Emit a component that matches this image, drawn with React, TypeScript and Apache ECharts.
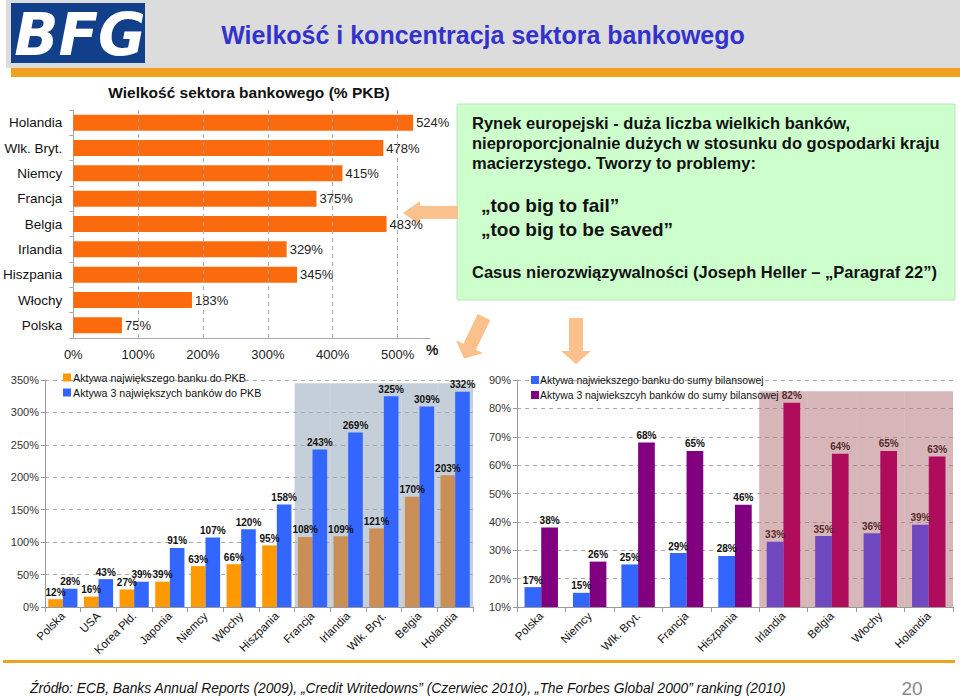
import React, { useEffect, useRef } from 'react';
import * as echarts from 'echarts';

// ---- Data ----
const sizeCountries = ['Holandia', 'Wlk. Bryt.', 'Niemcy', 'Francja', 'Belgia', 'Irlandia', 'Hiszpania', 'Włochy', 'Polska'];
const sizeValues = [524, 478, 415, 375, 483, 329, 345, 183, 75];
const sizeGridTicks = [100, 200, 300, 400, 500];

const gdpCountries = ['Polska', 'USA', 'Korea Płd.', 'Japonia', 'Niemcy', 'Włochy', 'Hiszpania', 'Francja', 'Irlandia', 'Wlk. Bryt.', 'Belgia', 'Holandia'];
const gdpLargest = [12, 16, 27, 39, 63, 66, 95, 108, 109, 121, 170, 203];
const gdpTop3 = [28, 43, 39, 91, 107, 120, 158, 243, 269, 325, 309, 332];
const gdpShaded = ['Francja', 'Irlandia', 'Wlk. Bryt.', 'Belgia', 'Holandia'];
const gdpShadeTop = 345;

const balCountries = ['Polska', 'Niemcy', 'Wlk. Bryt.', 'Francja', 'Hiszpania', 'Irlandia', 'Belgia', 'Włochy', 'Holandia'];
const balLargest = [17, 15, 25, 29, 28, 33, 35, 36, 39];
const balTop3 = [38, 26, 68, 65, 46, 82, 64, 65, 63];
const balShaded = ['Irlandia', 'Belgia', 'Włochy', 'Holandia'];
const balShadeTop = 86;

const nGdpLargest = 'Aktywa największego banku do PKB';
const nGdpTop3 = 'Aktywa 3 największych banków do PKB';
const nBalLargest = 'Aktywa najwiekszego banku do sumy bilansowej';
const nBalTop3 = 'Aktywa 3 najwiekszcyh banków do sumy bilansowej';

const FONT = '"Liberation Sans", Arial, sans-serif';

const downArrow = [[-7, 0], [7, 0], [7, 33], [15, 33], [0, 46], [-15, 33], [-7, 33]];

export default function App() {
  const ref = useRef<HTMLDivElement>(null);
  useEffect(() => {
    if (!ref.current) return;
    const chart = echarts.init(ref.current, undefined, { renderer: 'svg' });

    const barLabel = (color: string) => ({
      show: true,
      position: 'top',
      distance: 2,
      formatter: '{c}%',
      fontSize: 10,
      fontWeight: 'bold',
      color,
      fontFamily: FONT,
    });

    const option: any = {
      animation: false,
      textStyle: { fontFamily: FONT },
      grid: [
        { left: 69, top: 110, width: 361, height: 228 },
        { left: 45, top: 380, width: 428, height: 227 },
        { left: 517, top: 380, width: 436, height: 227 },
      ],
      legend: [
        {
          left: 58, top: 367, orient: 'vertical', itemWidth: 8, itemHeight: 8, itemGap: 4, icon: 'rect',
          data: [nGdpLargest, nGdpTop3],
          textStyle: { fontSize: 10.7, color: '#111', fontFamily: FONT, padding: [0, 0, 0, -3] },
        },
        {
          left: 526, top: 370, orient: 'vertical', itemWidth: 8, itemHeight: 8, itemGap: 5, icon: 'rect',
          data: [nBalLargest, nBalTop3],
          textStyle: { fontSize: 10.4, color: '#111', fontFamily: FONT, padding: [0, 0, 0, -4] },
        },
      ],
      xAxis: [
        {
          gridIndex: 0, type: 'value', min: 0, max: 550, interval: 100,
          axisLine: { show: true, lineStyle: { color: '#aaa' } },
          axisTick: { show: false },
          splitLine: { show: false },
          axisLabel: { showMaxLabel: false, formatter: '{value}%', fontSize: 13, color: '#222', margin: 10 },
          name: '%', nameLocation: 'end', nameGap: -4,
          nameTextStyle: { fontSize: 14, fontWeight: 'bold', color: '#222', verticalAlign: 'top', padding: [5, 0, 0, 0] },
        },
        {
          gridIndex: 1, type: 'category', data: gdpCountries,
          axisLine: { lineStyle: { color: '#999' } },
          axisTick: { show: true, lineStyle: { color: '#999' } },
          axisLabel: { interval: 0, rotate: 45, fontSize: 11.5, color: '#111', margin: 7 },
        },
        { gridIndex: 1, type: 'category', data: gdpCountries, show: false },
        {
          gridIndex: 2, type: 'category', data: balCountries,
          axisLine: { lineStyle: { color: '#999' } },
          axisTick: { show: true, lineStyle: { color: '#999' } },
          axisLabel: { interval: 0, rotate: 45, fontSize: 11.5, color: '#111', margin: 7 },
        },
        { gridIndex: 2, type: 'category', data: balCountries, show: false },
      ],
      yAxis: [
        {
          gridIndex: 0, type: 'category', data: sizeCountries, inverse: true,
          axisLine: { show: true, lineStyle: { color: '#aaa' } },
          axisTick: { show: true, length: 4, lineStyle: { color: '#aaa' } },
          axisLabel: { fontSize: 13.5, color: '#111', margin: 11 },
        },
        {
          gridIndex: 1, type: 'value', min: 0, max: 350, interval: 50,
          axisLine: { show: true, lineStyle: { color: '#999' } },
          axisTick: { show: true, length: 4, lineStyle: { color: '#999' } },
          splitLine: { show: true, lineStyle: { color: '#aaa', type: [4, 4] } },
          axisLabel: { formatter: '{value}%', fontSize: 11, color: '#333', margin: 6 },
        },
        {
          gridIndex: 2, type: 'value', min: 10, max: 90, interval: 10,
          axisLine: { show: true, lineStyle: { color: '#999' } },
          axisTick: { show: true, length: 4, lineStyle: { color: '#999' } },
          splitLine: { show: true, lineStyle: { color: '#aaa', type: [4, 4] } },
          axisLabel: { formatter: '{value}%', fontSize: 11, color: '#333', margin: 6 },
        },
      ],
      series: [
        {
          type: 'bar', xAxisIndex: 0, yAxisIndex: 0, data: sizeValues, barWidth: 16,
          itemStyle: { color: '#fb6a0c' },
          label: { show: true, position: 'right', distance: 3, formatter: '{c}%', fontSize: 13, color: '#222' },
          markLine: {
            silent: true, symbol: 'none', label: { show: false },
            lineStyle: { color: '#aaa', type: [4, 4], width: 1 },
            data: sizeGridTicks.map((v) => ({ xAxis: v })),
          },
          z: 2,
        },
        {
          type: 'bar', xAxisIndex: 2, yAxisIndex: 1, barWidth: '100%', silent: true, z: 1,
          data: gdpCountries.map((c) => (gdpShaded.includes(c) ? gdpShadeTop : null)),
          itemStyle: { color: 'rgba(150,168,186,0.55)' },
        },
        {
          type: 'bar', name: nGdpLargest, xAxisIndex: 1, yAxisIndex: 1, barGap: '0%', barCategoryGap: '18%',
          itemStyle: { color: '#ff9900' },
          data: gdpLargest.map((v, i) => ({
            value: v,
            itemStyle: { color: gdpShaded.includes(gdpCountries[i]) ? '#c98f57' : '#ff9900' },
          })),
          label: barLabel('#111'),
          z: 3,
        },
        {
          type: 'bar', name: nGdpTop3, xAxisIndex: 1, yAxisIndex: 1, barGap: '0%', barCategoryGap: '18%',
          itemStyle: { color: '#3366ff' },
          data: gdpTop3,
          label: barLabel('#111'),
          z: 3,
        },
        {
          type: 'bar', xAxisIndex: 4, yAxisIndex: 2, barWidth: '100%', silent: true, z: 1,
          data: balCountries.map((c) => (balShaded.includes(c) ? balShadeTop : null)),
          itemStyle: { color: 'rgba(176,110,118,0.5)' },
        },
        {
          type: 'bar', name: nBalLargest, xAxisIndex: 3, yAxisIndex: 2, barGap: '0%', barCategoryGap: '31%',
          itemStyle: { color: '#3366ff' },
          data: balLargest.map((v, i) => {
            const sh = balShaded.includes(balCountries[i]);
            return { value: v, itemStyle: { color: sh ? '#7048c0' : '#3366ff' }, label: { color: sh ? '#5a2a2a' : '#111' } };
          }),
          label: barLabel('#111'),
          z: 3,
        },
        {
          type: 'bar', name: nBalTop3, xAxisIndex: 3, yAxisIndex: 2, barGap: '0%', barCategoryGap: '31%',
          itemStyle: { color: '#800080' },
          data: balTop3.map((v, i) => {
            const sh = balShaded.includes(balCountries[i]);
            return { value: v, itemStyle: { color: sh ? '#b00c5c' : '#800080' }, label: { color: sh ? '#5a2a2a' : '#111' } };
          }),
          label: barLabel('#111'),
          z: 3,
        },
      ],
      graphic: [
        { type: 'rect', shape: { x: 6, y: 0, width: 954, height: 68 }, style: { fill: '#dcdcdc' }, z: -1 },
        { type: 'rect', shape: { x: 11, y: 3, width: 134, height: 60 }, style: { fill: '#123f8a' } },
        {
          type: 'text', x: 80, y: 35,
          style: { text: 'BFG', fill: '#ffffff', font: 'italic 900 58px "DejaVu Sans", Arial, sans-serif', align: 'center', verticalAlign: 'middle' },
        },
        {
          type: 'text', x: 483, y: 35,
          style: { text: 'Wielkość i koncentracja sektora bankowego', fill: '#3333cc', font: 'bold 25px "Liberation Sans", Arial, sans-serif', align: 'center', verticalAlign: 'middle' },
        },
        { type: 'rect', shape: { x: 11, y: 68, width: 949, height: 9 }, style: { fill: '#f0a21f' } },
        {
          type: 'text', x: 249, y: 92,
          style: { text: 'Wielkość sektora bankowego (% PKB)', fill: '#111', font: 'bold 15.5px "Liberation Sans", Arial, sans-serif', align: 'center', verticalAlign: 'middle' },
        },
        { type: 'rect', shape: { x: 457, y: 104, width: 498, height: 196 }, style: { fill: '#ccffcc', stroke: '#bfe3bf', lineWidth: 1 } },
        {
          type: 'text', x: 472, y: 113,
          style: {
            text: 'Rynek europejski - duża liczba wielkich banków,\nnieproporcjonalnie dużych w stosunku do gospodarki kraju\nmacierzystego. Tworzy to problemy:',
            fill: '#111', font: 'bold 16.5px "Liberation Sans", Arial, sans-serif', lineHeight: 20, verticalAlign: 'top',
          },
        },
        {
          type: 'text', x: 481, y: 193,
          style: { text: '„too big to fail”\n„too big to be saved”', fill: '#111', font: 'bold 19px "Liberation Sans", Arial, sans-serif', lineHeight: 24, verticalAlign: 'top' },
        },
        {
          type: 'text', x: 472, y: 263,
          style: { text: 'Casus nierozwiązywalności (Joseph Heller – „Paragraf 22”)', fill: '#111', font: 'bold 16.5px "Liberation Sans", Arial, sans-serif', verticalAlign: 'top' },
        },
        {
          type: 'polygon',
          shape: { points: [[403, 213], [420, 201], [420, 206], [458, 206], [458, 219], [420, 219], [420, 225]] },
          style: { fill: '#fbc18c' },
        },
        { type: 'polygon', x: 484, y: 317, rotation: -0.45, shape: { points: downArrow }, style: { fill: '#fbc18c' } },
        { type: 'polygon', x: 576, y: 318, shape: { points: downArrow }, style: { fill: '#fbc18c' } },
        { type: 'rect', shape: { x: 3, y: 660, width: 952, height: 3 }, style: { fill: '#f0a21f' } },
        {
          type: 'text', x: 30, y: 688,
          style: {
            text: 'Źródło: ECB, Banks Annual Reports (2009), „Credit Writedowns” (Czerwiec 2010), „The Forbes Global 2000” ranking (2010)',
            fill: '#111', font: 'italic 13.8px "Liberation Sans", Arial, sans-serif', verticalAlign: 'middle',
          },
        },
        {
          type: 'text', x: 912, y: 688,
          style: { text: '20', fill: '#888', font: '19px "Liberation Sans", Arial, sans-serif', align: 'center', verticalAlign: 'middle' },
        },
      ],
    };

    chart.setOption(option);
    return () => chart.dispose();
  }, []);

  return <div ref={ref} style={{ position: 'absolute', left: 0, top: 0, width: 960, height: 699, background: '#fff' }} />;
}
